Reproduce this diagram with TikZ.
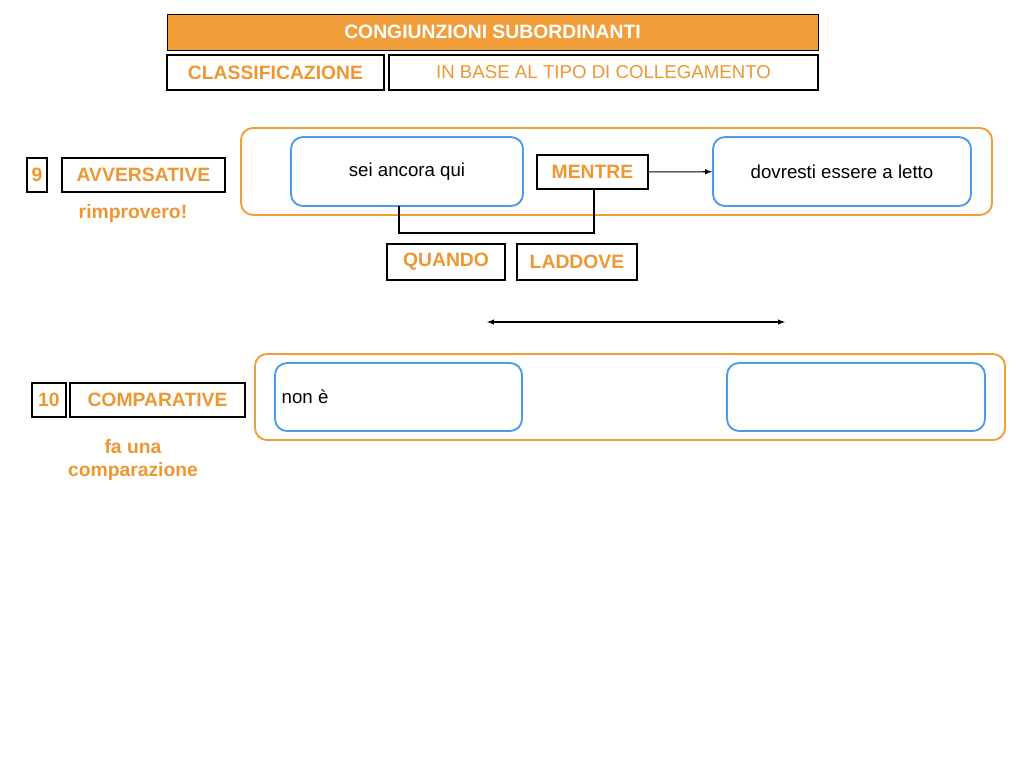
\documentclass[tikz,border=0pt]{standalone}
\usepackage{fontspec}
\setmainfont{Liberation Sans}
\definecolor{orangefill}{HTML}{F09D3A}
\definecolor{orangetext}{HTML}{EE9632}
\definecolor{bluebox}{HTML}{4A9BEB}
\begin{document}
\begin{tikzpicture}[x=0.75pt, y=-0.75pt, font=\fontsize{14}{16}\selectfont,
    tagbox/.style={draw, thick, text=orangetext, font=\fontsize{14.5}{16}\selectfont\bfseries, inner sep=0pt},
    frame/.style={draw=orangefill, line width=1.4pt, rounded corners=9pt},
    clause/.style={draw=bluebox, line width=1.4pt, rounded corners=9pt},
    note/.style={text=orangetext, font=\fontsize{14.5}{17}\selectfont\bfseries, align=center}]

\useasboundingbox (0,0) rectangle (1024,768);

% header
\node (title) [draw, fill=orangefill, text=white, font=\fontsize{14.5}{16}\selectfont\bfseries,
    minimum width=651*0.75pt, minimum height=36*0.75pt, inner sep=0pt] at (492.5,32) {CONGIUNZIONI SUBORDINANTI};
\node (class) [tagbox, minimum width=217*0.75pt, minimum height=35*0.75pt] at (275.5,72.5) {CLASSIFICAZIONE};
\node (base) [draw, thick, text=orangetext, minimum width=429*0.75pt, minimum height=35*0.75pt, inner sep=0pt]
    at (603.5,72.5) {IN BASE AL TIPO DI COLLEGAMENTO};

% avversative
\node (n9) [tagbox, minimum width=20*0.75pt, minimum height=34*0.75pt] at (37,175) {9};
\node (avv) [tagbox, minimum width=163*0.75pt, minimum height=34*0.75pt] at (143.5,175) {AVVERSATIVE};
\node (rimp) [note] at (133,213) {rimprovero!};
\draw [frame] (241,128) rectangle (992,215);
\node (sei) [clause, minimum width=232*0.75pt, minimum height=69*0.75pt] at (407,171.5) {sei ancora qui};
\node (mentre) [tagbox, minimum width=111*0.75pt, minimum height=34*0.75pt] at (592.5,172) {MENTRE};
\node (letto) [clause, minimum width=258*0.75pt, minimum height=69*0.75pt] at (842,171.5) {dovresti essere a letto};
\draw [-latex, thick] (mentre) -- (letto);
\node (quando) [tagbox, minimum width=118*0.75pt, minimum height=36*0.75pt] at (446,262) {QUANDO};
\node (laddove) [tagbox, minimum width=120*0.75pt, minimum height=36*0.75pt] at (577,262) {LADDOVE};
\draw [thick] (399,206) -- (399,233) -- (594,233) -- (mentre.south -| 594,0);

% comparative
\coordinate (ca) at (487,322);
\coordinate (cb) at (785,322);
\draw [latex-latex, thick] (ca) -- (cb);
\node (n10) [tagbox, minimum width=34*0.75pt, minimum height=34*0.75pt] at (49,400) {10};
\node (comp) [tagbox, minimum width=175*0.75pt, minimum height=34*0.75pt] at (157.5,400) {COMPARATIVE};
\node (fa) [note] at (133,460) {fa una\\comparazione};
\draw [frame] (255,354) rectangle (1005,440);
\node (nonbox) [clause, minimum width=247*0.75pt, minimum height=68*0.75pt] at (398.5,397) {};
\node (non) [anchor=west] at (277,397) {non è};
\node (empty) [clause, minimum width=258*0.75pt, minimum height=68*0.75pt] at (856,397) {};

\end{tikzpicture}
\end{document}
